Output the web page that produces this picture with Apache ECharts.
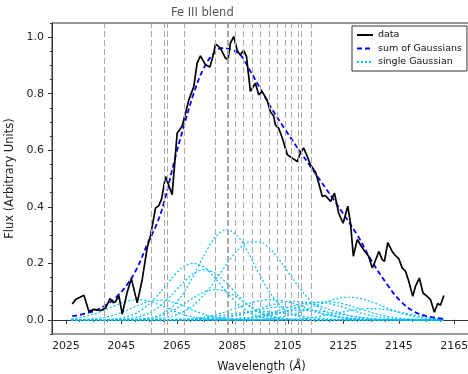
<!DOCTYPE html>
<html>
<head>
<meta charset="utf-8">
<script src="https://cdn.jsdelivr.net/npm/echarts@6/dist/echarts.min.js"></script>
<style>
html, body { margin: 0; padding: 0; background: #fff; }
#chart { width: 468px; height: 374px; }
</style>
</head>
<body>
<div id="chart"></div>
<script>
// observed spectrum
var dataWave = [2027.3, 2028.5, 2031.5, 2033.3, 2035.1, 2036.3, 2037.5, 2039.3, 2040.9, 2042.1,
    2042.9, 2044.1, 2045.3, 2047.1, 2048.6, 2050.7, 2052.5, 2054.3, 2055.5, 2057.3,
    2058.5, 2059.5, 2060.9, 2063.3, 2065.1, 2066.9, 2068.1, 2069.3, 2071.1, 2072.3,
    2073.5, 2075.3, 2076.9, 2078.3, 2078.9, 2080.7, 2082.5, 2083.4, 2084.3, 2085.5,
    2086.7, 2087.7, 2089.1, 2090.1, 2091.5, 2093.3, 2094.5, 2095.7, 2097.5, 2098.7,
    2099.9, 2100.5, 2101.7, 2103.0, 2104.8, 2106.6, 2108.4, 2109.5, 2110.7, 2112.0,
    2113.1, 2115.0, 2116.1, 2117.4, 2118.5, 2120.4, 2121.8, 2123.3, 2124.9, 2126.6,
    2127.6, 2128.6, 2130.0, 2131.2, 2132.3, 2134.1, 2135.4, 2136.2, 2137.8, 2139.0,
    2139.8, 2141.0, 2142.6, 2143.8, 2145.0, 2146.2, 2147.4, 2148.6, 2150.0, 2151.0,
    2152.4, 2153.7, 2155.2, 2156.4, 2157.8, 2159.0, 2160.0, 2161.2];
var dataFlux = [0.056, 0.072, 0.087, 0.030, 0.037, 0.035, 0.033, 0.042, 0.075, 0.061,
    0.064, 0.086, 0.020, 0.098, 0.146, 0.060, 0.142, 0.255, 0.298, 0.395,
    0.404, 0.428, 0.507, 0.443, 0.660, 0.685, 0.731, 0.778, 0.825, 0.908,
    0.934, 0.902, 0.894, 0.943, 0.976, 0.961, 0.926, 0.920, 0.979, 1.002,
    0.955, 0.937, 0.953, 0.931, 0.808, 0.837, 0.796, 0.808, 0.778, 0.737,
    0.720, 0.690, 0.678, 0.643, 0.584, 0.572, 0.560, 0.590, 0.608, 0.578,
    0.549, 0.522, 0.484, 0.437, 0.440, 0.419, 0.448, 0.378, 0.342, 0.402,
    0.340, 0.225, 0.284, 0.265, 0.248, 0.225, 0.184, 0.201, 0.242, 0.213,
    0.207, 0.273, 0.242, 0.227, 0.216, 0.184, 0.172, 0.136, 0.083, 0.119,
    0.148, 0.095, 0.083, 0.072, 0.027, 0.058, 0.052, 0.086];

// sum of the gaussian components
var sumWave = [2027.3, 2033.9, 2038.7, 2042.9, 2047.1, 2050.7, 2054.3, 2057.9, 2060.3, 2064.5,
    2067.5, 2071.1, 2074.7, 2078.3, 2081.3, 2084.9, 2087.9, 2090.9, 2095.1, 2098.7,
    2104.1, 2113.1, 2121.5, 2130.0, 2134.8, 2140.8, 2145.6, 2150.4, 2155.2, 2161.2];
var sumFlux = [0.013, 0.027, 0.048, 0.078, 0.125, 0.184, 0.266, 0.343, 0.413, 0.578,
    0.684, 0.802, 0.890, 0.943, 0.961, 0.955, 0.937, 0.890, 0.817, 0.755,
    0.672, 0.543, 0.425, 0.300, 0.215, 0.125, 0.066, 0.030, 0.013, 0.004];

// single gaussians, all sampled on one grid (every 4 A)
var gaussWave = [2027, 2031, 2035, 2039, 2043, 2047, 2051, 2055, 2059, 2063,
    2067, 2071, 2075, 2079, 2083, 2087, 2091, 2095, 2099, 2103,
    2107, 2111, 2115, 2119, 2123, 2127, 2131, 2135, 2139, 2143,
    2147, 2151, 2155, 2159, 2161];
var gauss1 = [0, 0, 0, 0, 0, 0, 0.002, 0.006, 0.018, 0.043,
    0.089, 0.156, 0.232, 0.295, 0.320, 0.295, 0.232, 0.156, 0.089, 0.043,
    0.018, 0.006, 0.002, 0, 0, 0, 0, 0, 0, 0,
    0, 0, 0, 0, 0];
var gauss2 = [0, 0, 0, 0, 0, 0, 0.001, 0.002, 0.005, 0.012,
    0.027, 0.052, 0.091, 0.142, 0.198, 0.247, 0.276, 0.276, 0.247, 0.198,
    0.142, 0.091, 0.052, 0.027, 0.012, 0.005, 0.002, 0.001, 0, 0,
    0, 0, 0, 0, 0];
var gauss3 = [0, 0, 0, 0.001, 0.004, 0.011, 0.027, 0.056, 0.097, 0.145,
    0.185, 0.200, 0.185, 0.145, 0.097, 0.056, 0.027, 0.011, 0.004, 0.001,
    0, 0, 0, 0, 0, 0, 0, 0, 0, 0,
    0, 0, 0, 0, 0];
var gauss4 = [0, 0, 0, 0, 0.001, 0.004, 0.010, 0.024, 0.049, 0.087,
    0.129, 0.164, 0.178, 0.164, 0.129, 0.087, 0.049, 0.024, 0.010, 0.004,
    0.001, 0, 0, 0, 0, 0, 0, 0, 0, 0,
    0, 0, 0, 0, 0];
var gauss5 = [0, 0, 0, 0, 0, 0.001, 0.002, 0.006, 0.014, 0.030,
    0.052, 0.078, 0.099, 0.107, 0.099, 0.078, 0.052, 0.030, 0.014, 0.006,
    0.002, 0.001, 0, 0, 0, 0, 0, 0, 0, 0,
    0, 0, 0, 0, 0];
var gauss6 = [0.004, 0.010, 0.020, 0.035, 0.052, 0.066, 0.072, 0.066, 0.052, 0.035,
    0.020, 0.010, 0.004, 0.001, 0, 0, 0, 0, 0, 0,
    0, 0, 0, 0, 0, 0, 0, 0, 0, 0,
    0, 0, 0, 0, 0];
var gauss7 = [0, 0.001, 0.004, 0.009, 0.019, 0.034, 0.051, 0.065, 0.070, 0.065,
    0.051, 0.034, 0.019, 0.009, 0.004, 0.001, 0, 0, 0, 0,
    0, 0, 0, 0, 0, 0, 0, 0, 0, 0,
    0, 0, 0, 0, 0];
var gauss8 = [0, 0, 0, 0, 0, 0, 0, 0, 0, 0.001,
    0.002, 0.005, 0.010, 0.018, 0.030, 0.044, 0.058, 0.068, 0.072, 0.068,
    0.058, 0.044, 0.030, 0.018, 0.010, 0.005, 0.002, 0.001, 0, 0,
    0, 0, 0, 0, 0];
var gauss9 = [0, 0, 0, 0, 0, 0, 0, 0, 0, 0,
    0, 0.001, 0.002, 0.004, 0.009, 0.016, 0.027, 0.040, 0.053, 0.062,
    0.066, 0.062, 0.053, 0.040, 0.027, 0.016, 0.009, 0.004, 0.002, 0.001,
    0, 0, 0, 0, 0];
var gauss10 = [0, 0, 0, 0, 0, 0, 0, 0, 0, 0,
    0, 0, 0, 0.001, 0.002, 0.004, 0.008, 0.015, 0.025, 0.038,
    0.050, 0.059, 0.062, 0.059, 0.050, 0.038, 0.025, 0.015, 0.008, 0.004,
    0.002, 0.001, 0, 0, 0];
var gauss11 = [0, 0, 0, 0, 0, 0, 0, 0, 0, 0,
    0, 0, 0, 0, 0, 0, 0.001, 0.002, 0.005, 0.011,
    0.020, 0.033, 0.049, 0.064, 0.076, 0.080, 0.076, 0.064, 0.049, 0.033,
    0.020, 0.011, 0.005, 0.002, 0.001];
var gauss12 = [0, 0, 0, 0, 0, 0, 0, 0, 0, 0,
    0, 0, 0, 0, 0.001, 0.002, 0.004, 0.009, 0.016, 0.026,
    0.039, 0.051, 0.061, 0.064, 0.061, 0.051, 0.039, 0.026, 0.016, 0.009,
    0.004, 0.002, 0.001, 0, 0];
var gauss13 = [0, 0, 0, 0, 0, 0, 0, 0, 0, 0,
    0, 0.001, 0.003, 0.006, 0.011, 0.018, 0.027, 0.036, 0.043, 0.045,
    0.043, 0.036, 0.027, 0.018, 0.011, 0.006, 0.003, 0.001, 0, 0,
    0, 0, 0, 0, 0];
var gauss14 = [0, 0, 0, 0, 0, 0, 0, 0, 0, 0,
    0, 0, 0, 0.001, 0.002, 0.005, 0.009, 0.014, 0.021, 0.028,
    0.033, 0.035, 0.033, 0.028, 0.021, 0.014, 0.009, 0.005, 0.002, 0.001,
    0, 0, 0, 0, 0];
var gauss15 = [0, 0, 0, 0, 0, 0, 0, 0, 0, 0.001,
    0.002, 0.004, 0.007, 0.012, 0.018, 0.024, 0.028, 0.030, 0.028, 0.024,
    0.018, 0.012, 0.007, 0.004, 0.002, 0.001, 0, 0, 0, 0,
    0, 0, 0, 0, 0];
var gauss16 = [0, 0, 0, 0, 0, 0, 0, 0, 0, 0,
    0, 0, 0, 0, 0, 0, 0, 0, 0, 0.001,
    0.003, 0.005, 0.010, 0.016, 0.024, 0.032, 0.038, 0.040, 0.038, 0.032,
    0.024, 0.016, 0.010, 0.005, 0.004];

// Fe III line positions (dashed verticals)
var lineWaves = [2038.7, 2055.9, 2060.4, 2061.6, 2067.5, 2078.7, 2083.2, 2083.5, 2086.2, 2089.1,
    2092.1, 2095.0, 2098.3, 2101.3, 2103.9, 2106.2, 2108.8, 2109.8, 2113.5];

var xTicks = [2025, 2045, 2065, 2085, 2105, 2125, 2145, 2165];
var yTicks = [0, 0.2, 0.4, 0.6, 0.8, 1.0];

var font = 'DejaVu Sans';
var myChart = echarts.init(document.getElementById('chart'));

function pairs(xs, ys) {
    return xs.map(function (x, i) { return [x, ys[i]]; });
}

var gaussians = [gauss1, gauss2, gauss3, gauss4, gauss5, gauss6, gauss7, gauss8,
    gauss9, gauss10, gauss11, gauss12, gauss13, gauss14, gauss15, gauss16];

var series = [{
    // carries the vertical lines only
    name: 'lines',
    type: 'line',
    data: [],
    z: 1,
    markLine: {
        silent: true,
        symbol: ['none', 'none'],
        label: { show: false },
        lineStyle: { color: '#a8a8a8', type: [6, 3], width: 1 },
        data: lineWaves.map(function (w) { return { xAxis: w }; })
    }
}];

gaussians.forEach(function (g) {
    series.push({
        name: 'single Gaussian',
        type: 'line',
        data: pairs(gaussWave, g),
        smooth: 0.3,
        symbol: 'none',
        z: 2,
        lineStyle: { color: '#00bfff', width: 1.2, type: [2, 2] },
        itemStyle: { color: '#00bfff' }
    });
});

series.push({
    name: 'sum of Gaussians',
    type: 'line',
    data: pairs(sumWave, sumFlux),
    smooth: 0.4,
    symbol: 'none',
    z: 3,
    lineStyle: { color: '#0000ff', width: 1.8, type: [5, 3] },
    itemStyle: { color: '#0000ff' }
});

series.push({
    name: 'data',
    type: 'line',
    data: pairs(dataWave, dataFlux),
    symbol: 'none',
    z: 4,
    lineStyle: { color: '#000', width: 1.7 },
    itemStyle: { color: '#000' }
});

var option = {
    animation: false,
    backgroundColor: '#fff',
    textStyle: { fontFamily: font },
    title: {
        text: 'Fe III blend',
        left: 171,
        top: 7,
        padding: 0,
        textStyle: { fontFamily: font, fontSize: 11.5, fontWeight: 'normal', color: '#555' }
    },
    legend: {
        data: ['data', 'sum of Gaussians', 'single Gaussian'],
        orient: 'vertical',
        left: 352,
        top: 26,
        padding: [4, 5, 4, 4],
        itemGap: 3.5,
        itemWidth: 16,
        itemHeight: 10,
        itemStyle: { opacity: 0 },
        borderColor: '#333',
        borderWidth: 1,
        borderRadius: 0,
        backgroundColor: '#fff',
        textStyle: { fontFamily: font, fontSize: 9.5, color: '#111' }
    },
    grid: {
        left: 52,
        top: 23,
        right: -3,
        bottom: 40,
        outerBoundsMode: 'none',
        containLabel: false,
        show: true,
        borderColor: '#333',
        borderWidth: 1
    },
    xAxis: [{
        type: 'value',
        min: 2020,
        max: 2171,
        position: 'bottom',
        name: 'Wavelength ({i|Å})',
        nameLocation: 'middle',
        nameGap: 27,
        nameTextStyle: {
            fontFamily: font, fontSize: 11.5, color: '#222',
            rich: { i: { fontFamily: font, fontSize: 11.5, fontStyle: 'italic', color: '#222' } }
        },
        axisLine: { show: true, lineStyle: { color: '#333' } },
        splitLine: { show: false },
        axisTick: { customValues: xTicks, length: 4, lineStyle: { color: '#333' } },
        axisLabel: {
            customValues: xTicks, margin: 7, color: '#222', fontSize: 11, fontFamily: font,
            formatter: function (v) { return String(v); }
        }
    }, {
        // minor ticks
        type: 'value',
        min: 2020,
        max: 2171,
        interval: 5,
        position: 'bottom',
        axisLine: { show: false },
        splitLine: { show: false },
        axisTick: { length: 2, lineStyle: { color: '#333' } },
        axisLabel: { show: false }
    }],
    yAxis: [{
        type: 'value',
        min: -0.05,
        max: 1.05,
        position: 'left',
        name: 'Flux (Arbitrary Units)',
        nameLocation: 'middle',
        nameGap: 30,
        nameTextStyle: { fontFamily: font, fontSize: 11.5, color: '#222' },
        axisLine: { show: true, lineStyle: { color: '#333' } },
        splitLine: { show: false },
        axisTick: { customValues: yTicks, length: 4, lineStyle: { color: '#333' } },
        axisLabel: {
            customValues: yTicks, margin: 8, color: '#222', fontSize: 11, fontFamily: font,
            formatter: function (v) { return v.toFixed(1); }
        }
    }, {
        // minor ticks
        type: 'value',
        min: -0.05,
        max: 1.05,
        interval: 0.05,
        position: 'left',
        axisLine: { show: false },
        splitLine: { show: false },
        axisTick: { length: 2, lineStyle: { color: '#333' } },
        axisLabel: { show: false }
    }],
    series: series
};

myChart.setOption(option);
</script>
</body>
</html>
